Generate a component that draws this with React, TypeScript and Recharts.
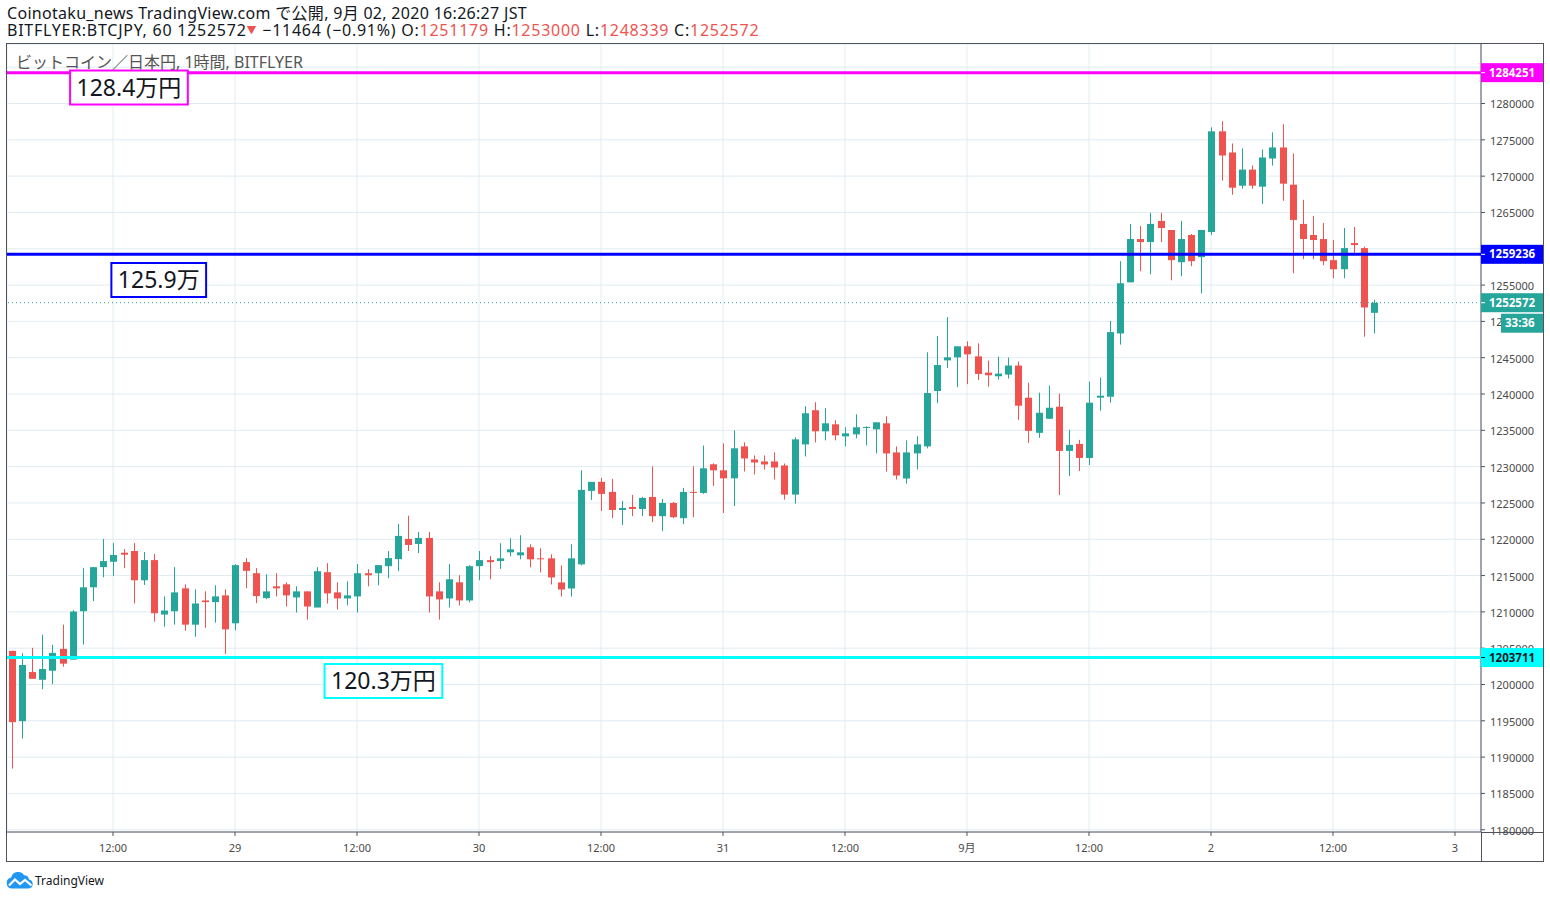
import React from 'react';
import {
  ComposedChart,
  Bar,
  XAxis,
  YAxis,
  CartesianGrid,
  ReferenceLine,
  ReferenceDot,
} from 'recharts';

// hours since Aug 28 00:00 (JST) of the first 1h candle
const firstCandleHour = 2;

const opens = [
  1204630, 1194953, 1201713, 1200648, 1201898, 1204908, 1203426, 1210093, 1213381, 1216159,
  1216900, 1218150, 1218381, 1214353, 1217131, 1209630, 1210093, 1213242, 1208241, 1211575,
  1211344, 1212270, 1208427, 1216853, 1215324, 1211898, 1213518, 1213796, 1211990, 1212824,
  1210601, 1215463, 1212685, 1211851, 1212129, 1215324, 1215324, 1216296, 1217268, 1220046,
  1219352, 1220185, 1212824, 1211851, 1214074, 1211574, 1216296, 1217129, 1217004, 1218202,
  1217787, 1218894, 1217372, 1217372, 1214053, 1213223, 1216543, 1226660, 1227903, 1226521,
  1224032, 1224447, 1224170, 1225830, 1223180, 1225000, 1222904, 1226521, 1226382, 1230322,
  1229494, 1228390, 1232787, 1230989, 1230713, 1230713, 1230160, 1226149, 1233064, 1237766,
  1234862, 1235830, 1234170, 1234447, 1235323, 1235138, 1235968, 1231957, 1228362, 1231819,
  1232787, 1240415, 1244631, 1245046, 1246567, 1245184, 1242950, 1242443, 1242674, 1243918,
  1239493, 1234653, 1236589, 1238248, 1232163, 1233131, 1231195, 1239493, 1239631, 1248340,
  1255380, 1261340, 1260924, 1263835, 1262587, 1258152, 1261894, 1258845, 1262310, 1276170,
  1273259, 1268686, 1270903, 1268547, 1272428, 1273952, 1268824, 1263419, 1261894, 1261340,
  1258429, 1257182, 1260785, 1260092, 1251179,
];

const highs = [
  1204630, 1204306, 1205047, 1206852, 1205463, 1208241, 1210232, 1216020, 1216159, 1220048,
  1219492, 1218659, 1219492, 1218242, 1217964, 1212131, 1216159, 1213797, 1213103, 1212825,
  1213659, 1213103, 1216575, 1217409, 1216018, 1215185, 1215324, 1214074, 1213518, 1212824,
  1216157, 1216713, 1214074, 1214213, 1216574, 1215879, 1216435, 1218380, 1222130, 1223241,
  1221019, 1221019, 1214074, 1216574, 1215046, 1216435, 1218380, 1217685, 1219447, 1220138,
  1220553, 1219309, 1218755, 1217925, 1216404, 1219309, 1229494, 1227903, 1228456, 1228318,
  1225277, 1226106, 1225830, 1230046, 1225553, 1225138, 1227074, 1230046, 1232900, 1230460,
  1233200, 1235000, 1233340, 1231543, 1231543, 1231957, 1230436, 1234032, 1238319, 1238872,
  1238043, 1236383, 1235415, 1237213, 1235553, 1236106, 1236936, 1232787, 1233617, 1234170,
  1245738, 1248000, 1250600, 1246567, 1247258, 1246982, 1244610, 1245163, 1245025, 1244472,
  1241567, 1240184, 1241153, 1240046, 1235067, 1233684, 1241706, 1242259, 1250046, 1258290,
  1263419, 1263142, 1264943, 1264943, 1262587, 1263835, 1262033, 1262587, 1276724, 1277556,
  1274507, 1273814, 1271458, 1273675, 1276031, 1277140, 1273121, 1266745, 1264528, 1263557,
  1261201, 1262864, 1263003, 1260300, 1253000,
];

const lows = [
  1188425, 1192546, 1200787, 1199352, 1200046, 1202454, 1203426, 1205510, 1211482, 1214770,
  1214955, 1216020, 1211158, 1213705, 1208658, 1207964, 1208241, 1207408, 1206575, 1207825,
  1208519, 1204213, 1207454, 1213242, 1211203, 1211759, 1212129, 1210740, 1209907, 1208934,
  1210601, 1211157, 1210323, 1210879, 1209907, 1213518, 1213657, 1214629, 1215602, 1218380,
  1218102, 1209907, 1208934, 1210601, 1210879, 1211296, 1214351, 1214490, 1215897, 1217649,
  1217234, 1216128, 1215436, 1213776, 1212117, 1212117, 1216404, 1225415, 1223894, 1222904,
  1221936, 1223180, 1223180, 1222351, 1221106, 1222904, 1222075, 1223041, 1226245, 1227350,
  1223617, 1224585, 1229330, 1228915, 1229606, 1228223, 1225457, 1224904, 1231404, 1233340,
  1233617, 1233617, 1232787, 1233894, 1232926, 1231819, 1229330, 1228223, 1227670, 1229606,
  1232511, 1238732, 1243575, 1240945, 1241360, 1241936, 1241014, 1241982, 1242121, 1236450,
  1233270, 1233961, 1236589, 1226078, 1228706, 1229397, 1230227, 1237695, 1238801, 1246800,
  1255380, 1256905, 1256489, 1260924, 1255657, 1256212, 1257598, 1253856, 1261894, 1269379,
  1267438, 1268270, 1268270, 1266191, 1271458, 1266607, 1256627, 1258568, 1258568, 1257736,
  1255934, 1255934, 1259399, 1247896, 1248339,
];

const closes = [
  1194815, 1202685, 1200787, 1202130, 1204352, 1202871, 1210047, 1213381, 1216159, 1216992,
  1217826, 1217872, 1214353, 1217131, 1209816, 1210186, 1212686, 1208241, 1211158, 1211344,
  1212131, 1207593, 1216437, 1215649, 1212175, 1212824, 1213240, 1212268, 1212824, 1210740,
  1215602, 1212546, 1211851, 1212268, 1215324, 1215046, 1216435, 1217407, 1220463, 1219213,
  1220185, 1212129, 1211713, 1214490, 1211574, 1216296, 1217129, 1216852, 1217372, 1218617,
  1218202, 1217234, 1217280, 1214745, 1213085, 1217372, 1226798, 1227903, 1226245, 1224032,
  1224309, 1224170, 1225691, 1223180, 1225000, 1223041, 1226521, 1226429, 1229770, 1229494,
  1228390, 1232525, 1231128, 1230574, 1230298, 1229883, 1226149, 1233755, 1237351, 1234862,
  1235968, 1234308, 1234585, 1235415, 1235461, 1236106, 1231819, 1228777, 1231957, 1233064,
  1240138, 1243990, 1245046, 1246567, 1245461, 1242766, 1242582, 1242812, 1243918, 1238387,
  1234929, 1237418, 1238110, 1232163, 1232993, 1231195, 1238801, 1239770, 1248525, 1255250,
  1261340, 1260924, 1263419, 1262864, 1258429, 1261340, 1258291, 1262587, 1276170, 1272844,
  1268408, 1270903, 1268686, 1272566, 1273952, 1268963, 1263973, 1261340, 1261201, 1258291,
  1257182, 1260092, 1260508, 1251915, 1252572,
];

const xTickValues = [12, 24, 36, 48, 60, 72, 84, 96, 108, 120, 132, 144];
const xTickLabels = ['12:00', '29', '12:00', '30', '12:00', '31', '12:00', '9月', '12:00', '2', '12:00', '3'];
const xDomain = [1.574, 146.56];

const yTicks = [
  1180000, 1185000, 1190000, 1195000, 1200000, 1205000, 1210000, 1215000, 1220000, 1225000,
  1230000, 1235000, 1240000, 1245000, 1250000, 1255000, 1260000, 1265000, 1270000, 1275000,
  1280000, 1285000,
];
const yDomain = [1179689, 1288197];

const levelLines = [
  { price: 1284251, color: '#ff00ff', text: '#ffffff' },
  { price: 1259236, color: '#0000ff', text: '#ffffff' },
  { price: 1203711, color: '#00ffff', text: '#131722' },
];
const lastPrice = 1252572;
const countdown = '33:36';

const annotations = [
  { text: '128.4万円', t: 13.57, price: 1282207, color: '#ff00ff' },
  { text: '125.9万', t: 16.5, price: 1255700, color: '#0000ff' },
  { text: '120.3万円', t: 38.6, price: 1200482, color: '#00ffff' },
];

const UP = '#26a69a';
const DOWN = '#ef5350';
const AXIS = '#50535e';
const GRID = '#e1ecf2';
const FONT = "'Noto Sans', 'Noto Sans CJK JP', sans-serif";

const candles = opens.map((o, i) => ({
  t: firstCandleHour + i,
  open: o,
  high: highs[i],
  low: lows[i],
  close: closes[i],
  range: [lows[i], highs[i]],
}));

const Candle = (props: any) => {
  const { x, y, width, height, payload } = props;
  if (x == null || y == null) return null;
  const { open, close, high, low } = payload;
  const color = close >= open ? UP : DOWN;
  const top = Math.min(y, y + height);
  const h = Math.abs(height);
  const span = high - low || 1;
  const toY = (v: number) => top + ((high - v) / span) * h;
  const cx = Math.round(x + width / 2) + 0.5;
  const bTop = toY(Math.max(open, close));
  const bBot = toY(Math.min(open, close));
  return (
    <g>
      <line x1={cx} x2={cx} y1={top} y2={top + h} stroke={color} strokeWidth={1} />
      <rect x={cx - width / 2} y={bTop} width={width} height={Math.max(1, bBot - bTop)} fill={color} />
    </g>
  );
};

const AxisTag = (props: any) => {
  const { viewBox, value, bg, fg, extra } = props;
  if (!viewBox) return null;
  const ax = viewBox.x + viewBox.width;
  const y = viewBox.y;
  return (
    <g>
      <rect x={ax} y={y - 9.5} width={62} height={19} fill={bg} />
      <line x1={ax} x2={ax + 4} y1={y} y2={y} stroke={fg} strokeWidth={1} />
      <text x={ax + 8} y={y} dy="0.36em" fill={fg} fontSize={11.5} fontWeight="bold" fontFamily={FONT}>
        {value}
      </text>
      {extra ? (
        <g>
          <rect x={ax + 20} y={y + 11} width={42} height={19} fill={bg} />
          <text x={ax + 24} y={y + 20.5} dy="0.36em" fill={fg} fontSize={11.5} fontWeight="bold" fontFamily={FONT}>
            {extra}
          </text>
        </g>
      ) : null}
    </g>
  );
};

const textWidth = (s: string, fs: number) => {
  let w = 0;
  for (const ch of s) {
    if (ch === '.') w += fs * 0.27;
    else if (ch.charCodeAt(0) < 128) w += fs * 0.56;
    else w += fs;
  }
  return w;
};

const NoteBox = (props: any) => {
  const { cx, cy, text, color } = props;
  if (cx == null || cy == null) return null;
  const fs = 23;
  const w = textWidth(text, fs) + 14;
  const h = 34;
  return (
    <g>
      <rect x={cx - w / 2} y={cy - h / 2} width={w} height={h} fill="#ffffff" stroke={color} strokeWidth={2} />
      <text x={cx} y={cy} dy="0.36em" textAnchor="middle" fontSize={fs} fontFamily={FONT} fill="#131722">
        {text}
      </text>
    </g>
  );
};

const YTick = (props: any) => {
  const { x, y, payload } = props;
  return (
    <text x={x} y={y} dy="0.45em" fill="#4a4a4a" fontSize={11} fontFamily={FONT} textAnchor="start">
      {payload.value}
    </text>
  );
};

const TvLogo = () => (
  <svg width={28} height={18} viewBox="0 0 28 18">
    <path
      d="M6 17.5 A5.5 5.5 0 0 1 5.2 6.6 A7 7 0 0 1 18 4.2 A5 5 0 0 1 23 8.6 A4.5 4.5 0 0 1 22.6 17.5 Z"
      fill="#2196f3"
    />
    <polyline points="3,14.5 9,8.5 14,13 19,9 25.5,14.5" fill="none" stroke="#ffffff" strokeWidth={2.2} />
  </svg>
);

export default function App() {
  return (
    <div
      style={{
        position: 'fixed',
        left: 0,
        top: 0,
        width: 1550,
        height: 898,
        background: '#ffffff',
        fontFamily: FONT,
        overflow: 'hidden',
      }}
    >
      <div style={{ position: 'absolute', left: 0, top: 0 }}>
        <ComposedChart
          width={1550}
          height={898}
          data={candles}
          margin={{ top: 44, right: 7, bottom: 37, left: 7 }}
        >
          <CartesianGrid stroke={GRID} strokeWidth={1} />
          <XAxis
            dataKey="t"
            type="number"
            domain={xDomain}
            allowDataOverflow
            ticks={xTickValues}
            interval={0}
            tickFormatter={(v: number) => xTickLabels[xTickValues.indexOf(v)] ?? ''}
            height={29}
            tickSize={4}
            tickMargin={8}
            axisLine={{ stroke: AXIS }}
            tickLine={{ stroke: AXIS }}
            tick={{ fill: '#4a4a4a', fontSize: 11, fontFamily: FONT }}
          />
          <YAxis
            orientation="right"
            type="number"
            domain={yDomain}
            allowDataOverflow
            ticks={yTicks}
            interval={0}
            width={62}
            tickSize={4}
            tickMargin={5}
            axisLine={{ stroke: AXIS }}
            tickLine={{ stroke: AXIS }}
            tick={<YTick />}
          />
          <Bar dataKey="range" barSize={7} shape={<Candle />} isAnimationActive={false} />
          <ReferenceLine
            y={lastPrice}
            stroke={UP}
            strokeWidth={1}
            strokeDasharray="1 3"
            zIndex={2500}
            label={<AxisTag value={String(lastPrice)} bg={UP} fg="#ffffff" extra={countdown} />}
          />
          {levelLines.map((l) => (
            <ReferenceLine
              key={l.price}
              y={l.price}
              stroke={l.color}
              strokeWidth={3}
              zIndex={2500}
              label={<AxisTag value={String(l.price)} bg={l.color} fg={l.text} />}
            />
          ))}
          {annotations.map((a) => (
            <ReferenceDot
              key={a.text}
              x={a.t}
              y={a.price}
              r={0}
              zIndex={2600}
              shape={(p: any) => <NoteBox {...p} text={a.text} color={a.color} />}
            />
          ))}
        </ComposedChart>
      </div>

      {/* frame */}
      <div
        style={{
          position: 'absolute',
          left: 6,
          top: 43,
          width: 1538,
          height: 819,
          border: `1px solid ${AXIS}`,
          boxSizing: 'border-box',
          pointerEvents: 'none',
        }}
      />
      <div style={{ position: 'absolute', left: 1481, top: 832, width: 62, height: 1, background: AXIS }} />
      <div style={{ position: 'absolute', left: 1481, top: 832, width: 1, height: 29, background: AXIS }} />

      {/* header */}
      <div
        style={{
          position: 'absolute',
          left: 7,
          top: 4,
          fontSize: 16,
          lineHeight: '18px',
          letterSpacing: '0.3px',
          color: '#131722',
          whiteSpace: 'nowrap',
        }}
      >
        Coinotaku_news TradingView.com で公開, 9月 02, 2020 16:26:27 JST
      </div>
      <div
        style={{
          position: 'absolute',
          left: 7,
          top: 21,
          fontSize: 16,
          lineHeight: '18px',
          letterSpacing: '0.75px',
          color: '#131722',
          whiteSpace: 'nowrap',
        }}
      >
        BITFLYER:BTCJPY, 60 1252572
        <span style={{ color: DOWN, fontSize: 10, verticalAlign: 'top' }}>▼</span> −11464 (−0.91%) O:
        <span style={{ color: DOWN }}>1251179</span> H:<span style={{ color: DOWN }}>1253000</span> L:
        <span style={{ color: DOWN }}>1248339</span> C:<span style={{ color: DOWN }}>1252572</span>
      </div>
      <div
        style={{
          position: 'absolute',
          left: 16,
          top: 53,
          fontSize: 16,
          lineHeight: '18px',
          color: '#555555',
          whiteSpace: 'nowrap',
        }}
      >
        ビットコイン／日本円, 1時間, BITFLYER
      </div>

      {/* footer logo */}
      <div style={{ position: 'absolute', left: 6, top: 871, display: 'flex', alignItems: 'center' }}>
        <TvLogo />
        <span style={{ marginLeft: 1, fontSize: 12, color: '#131722' }}>TradingView</span>
      </div>
    </div>
  );
}
